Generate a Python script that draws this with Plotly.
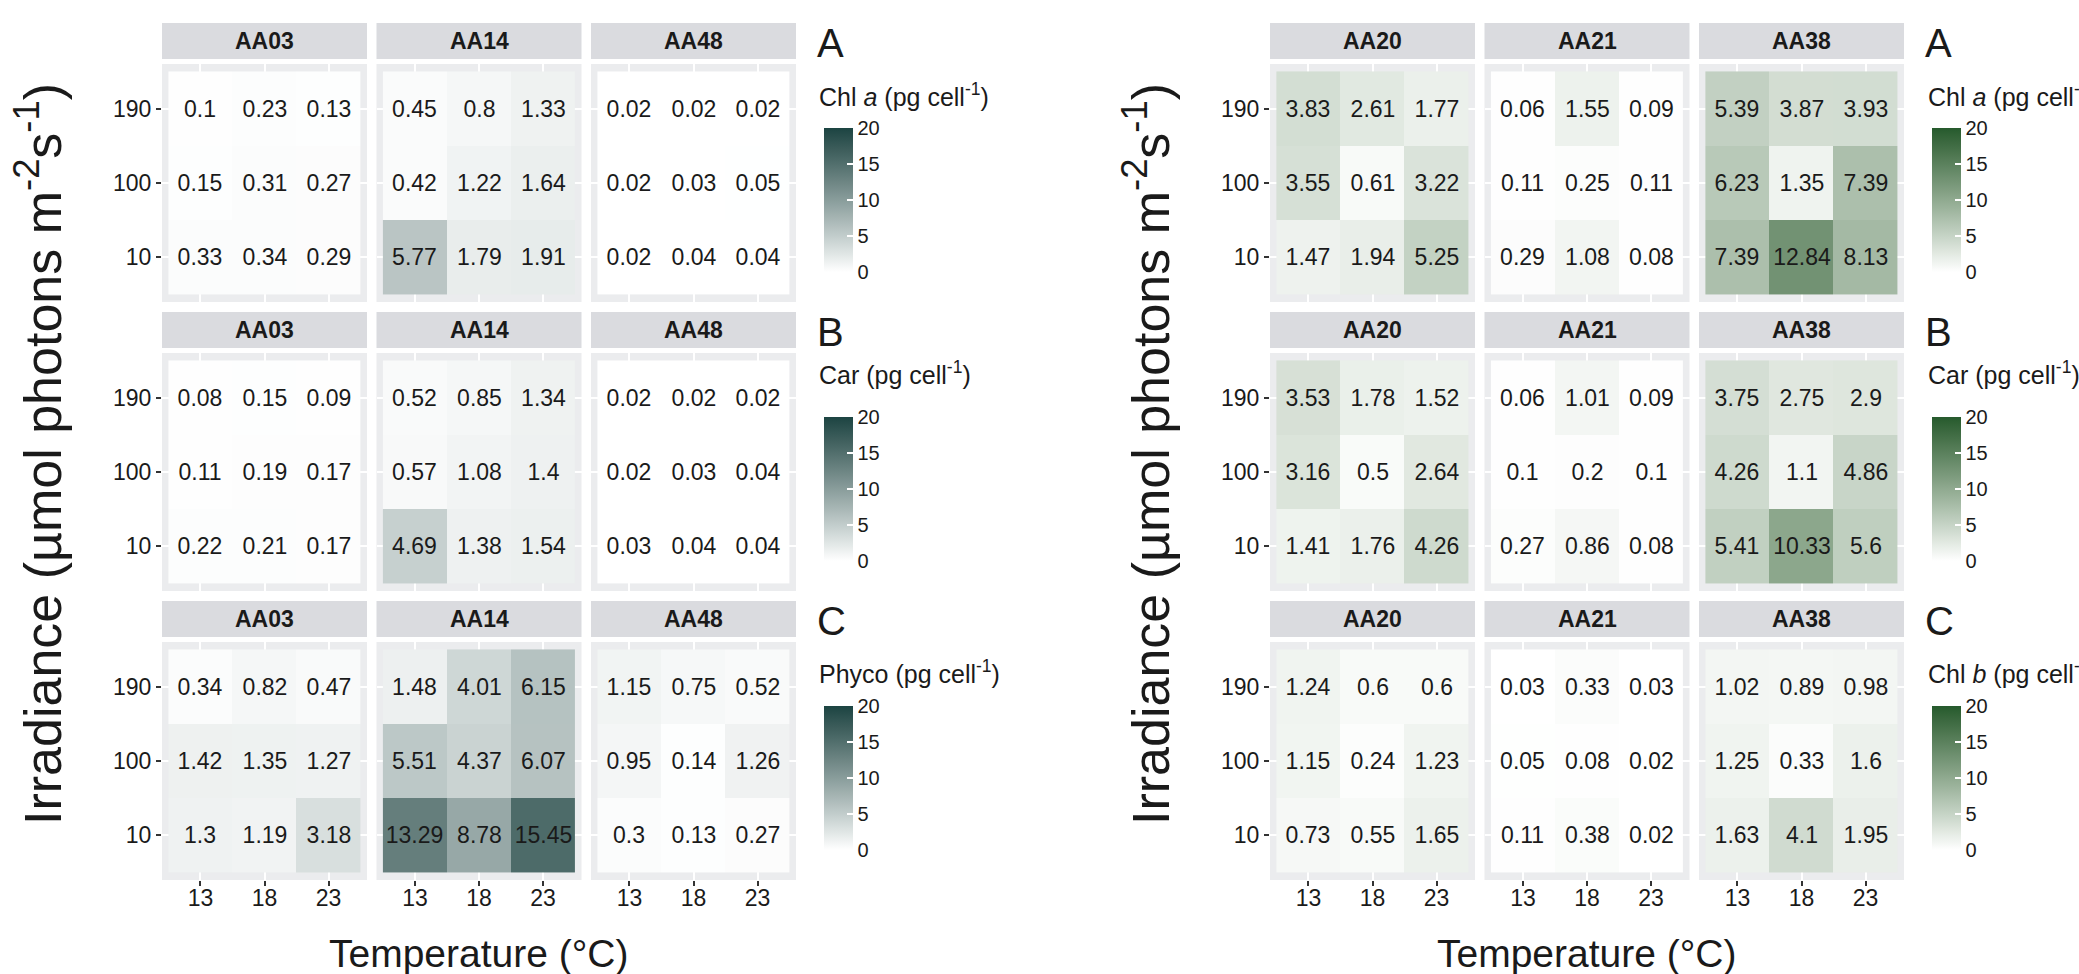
import plotly.graph_objects as go

W, H = 2079, 974

temperature = ["13", "18", "23"]
irradiance = ["10", "100", "190"]
strains_left = ["AA03", "AA14", "AA48"]
strains_right = ["AA20", "AA21", "AA38"]

# rows: irradiance 10, 100, 190 ; columns: temperature 13, 18, 23
chl_a_left = {
    "AA03": [[0.33, 0.34, 0.29], [0.15, 0.31, 0.27], [0.1, 0.23, 0.13]],
    "AA14": [[5.77, 1.79, 1.91], [0.42, 1.22, 1.64], [0.45, 0.8, 1.33]],
    "AA48": [[0.02, 0.04, 0.04], [0.02, 0.03, 0.05], [0.02, 0.02, 0.02]],
}
car_left = {
    "AA03": [[0.22, 0.21, 0.17], [0.11, 0.19, 0.17], [0.08, 0.15, 0.09]],
    "AA14": [[4.69, 1.38, 1.54], [0.57, 1.08, 1.4], [0.52, 0.85, 1.34]],
    "AA48": [[0.03, 0.04, 0.04], [0.02, 0.03, 0.04], [0.02, 0.02, 0.02]],
}
phyco_left = {
    "AA03": [[1.3, 1.19, 3.18], [1.42, 1.35, 1.27], [0.34, 0.82, 0.47]],
    "AA14": [[13.29, 8.78, 15.45], [5.51, 4.37, 6.07], [1.48, 4.01, 6.15]],
    "AA48": [[0.3, 0.13, 0.27], [0.95, 0.14, 1.26], [1.15, 0.75, 0.52]],
}
chl_a_right = {
    "AA20": [[1.47, 1.94, 5.25], [3.55, 0.61, 3.22], [3.83, 2.61, 1.77]],
    "AA21": [[0.29, 1.08, 0.08], [0.11, 0.25, 0.11], [0.06, 1.55, 0.09]],
    "AA38": [[7.39, 12.84, 8.13], [6.23, 1.35, 7.39], [5.39, 3.87, 3.93]],
}
car_right = {
    "AA20": [[1.41, 1.76, 4.26], [3.16, 0.5, 2.64], [3.53, 1.78, 1.52]],
    "AA21": [[0.27, 0.86, 0.08], [0.1, 0.2, 0.1], [0.06, 1.01, 0.09]],
    "AA38": [[5.41, 10.33, 5.6], [4.26, 1.1, 4.86], [3.75, 2.75, 2.9]],
}
chl_b_right = {
    "AA20": [[0.73, 0.55, 1.65], [1.15, 0.24, 1.23], [1.24, 0.6, 0.6]],
    "AA21": [[0.11, 0.38, 0.02], [0.05, 0.08, 0.02], [0.03, 0.33, 0.03]],
    "AA38": [[1.63, 4.1, 1.95], [1.25, 0.33, 1.6], [1.02, 0.89, 0.98]],
}

panel_letters = ["A", "B", "C"]
titles_left = ["Chl <i>a</i> (pg cell<sup>-1</sup>)", "Car (pg cell<sup>-1</sup>)",
               "Phyco (pg cell<sup>-1</sup>)"]
titles_right = ["Chl <i>a</i> (pg cell<sup>-1</sup>)", "Car (pg cell<sup>-1</sup>)",
                "Chl <i>b</i> (pg cell<sup>-1</sup>)"]
color_ticks = [0, 5, 10, 15, 20]
TEAL = (28, 68, 66)
GREEN = (38, 90, 45)

# ---------- colour helpers (Lab interpolation like ggplot) ----------
def _lin(c):
    c = c / 255.0
    return c / 12.92 if c <= 0.04045 else ((c + 0.055) / 1.055) ** 2.4

def _delin(c):
    c = 12.92 * c if c <= 0.0031308 else 1.055 * c ** (1 / 2.4) - 0.055
    return max(0, min(255, round(c * 255)))

def rgb2lab(rgb):
    r, g, b = [_lin(v) for v in rgb]
    X = (0.4124 * r + 0.3576 * g + 0.1805 * b) / 0.95047
    Y = 0.2126 * r + 0.7152 * g + 0.0722 * b
    Z = (0.0193 * r + 0.1192 * g + 0.9505 * b) / 1.08883
    f = lambda t: t ** (1 / 3) if t > 0.008856 else 7.787 * t + 16 / 116
    fx, fy, fz = f(X), f(Y), f(Z)
    return (116 * fy - 16, 500 * (fx - fy), 200 * (fy - fz))

def lab2rgb(lab):
    L, a, b = lab
    fy = (L + 16) / 116
    fx = fy + a / 500
    fz = fy - b / 200
    finv = lambda t: t ** 3 if t ** 3 > 0.008856 else (t - 16 / 116) / 7.787
    X, Y, Z = finv(fx) * 0.95047, finv(fy), finv(fz) * 1.08883
    r = 3.2406 * X - 1.5372 * Y - 0.4986 * Z
    g = -0.9689 * X + 1.8758 * Y + 0.0415 * Z
    bb = 0.0557 * X - 0.2040 * Y + 1.0570 * Z
    return tuple(_delin(max(0, v)) for v in (r, g, bb))

def lab_scale(high, n=21):
    l0, l1 = rgb2lab((255, 255, 255)), rgb2lab(high)
    out = []
    for i in range(n):
        t = i / (n - 1)
        lab = tuple(l0[k] + (l1[k] - l0[k]) * t for k in range(3))
        r, g, b = lab2rgb(lab)
        out.append([t, f"rgb({r},{g},{b})"])
    return out

# ---------- geometry (pixels) ----------
col_x = {0: [162, 376.5, 591], 1: [1270, 1484.5, 1699]}
panel_w = 205
strip_top = [23, 312, 601]
strip_h = 36
panel_off = 41
panel_h = 238
bar_x = {0: 824, 1: 1932}
letter_x = {0: 815, 1: 1923}
title_x = {0: 817, 1: 1926}
bar_top_off = 105
bar_len = 144
letter_y_off = 20
title_y_off = [72, 61, 71]
ytitle_x = {0: 39, 1: 1147}
xtitle_cx = {0: 479, 1: 1587}

FONT = "Liberation Sans, Arial, Helvetica, sans-serif"
TXT = "#1a1a1a"
PANEL_BG = "#EBECEE"
STRIP_BG = "#DADBDF"

fig = go.Figure()
layout = dict(
    width=W, height=H,
    margin=dict(l=0, r=0, t=0, b=0, autoexpand=False),
    paper_bgcolor="white", plot_bgcolor=PANEL_BG,
    font=dict(family=FONT, color=TXT, size=20),
    showlegend=False,
    template="none",
)
shapes, annotations = [], []

halves = [
    (0, strains_left, [chl_a_left, car_left, phyco_left], titles_left, TEAL),
    (1, strains_right, [chl_a_right, car_right, chl_b_right], titles_right, GREEN),
]

k = 0
for half, strains, datasets, titles, high in halves:
    cscale = lab_scale(high)
    for r in range(3):
        ca_idx = half * 3 + r + 1
        ca_name = "coloraxis" if ca_idx == 1 else f"coloraxis{ca_idx}"
        st = strip_top[r]
        pt = st + panel_off
        layout[ca_name] = dict(
            colorscale=cscale, cmin=0, cmax=20,
            colorbar=dict(
                x=bar_x[half] / W, xanchor="left", xref="paper",
                y=1 - (st + bar_top_off) / H, yanchor="top", yref="paper",
                len=bar_len, lenmode="pixels", thickness=29, thicknessmode="pixels",
                xpad=0, ypad=0, outlinewidth=0,
                tickmode="array", tickvals=color_ticks,
                ticktext=[str(v) for v in color_ticks],
                ticks="inside", ticklen=6, tickcolor="white",
                tickwidth=1.5, tickfont=dict(size=20, color=TXT, family=FONT),
                title=dict(text=""),
            ),
        )
        for c in range(3):
            k += 1
            sx = "" if k == 1 else str(k)
            x0 = col_x[half][c]
            z = datasets[r][strains[c]]
            text = [[str(v) for v in row] for row in z]
            fig.add_trace(go.Heatmap(
                z=z, x=[0, 1, 2], y=[0, 1, 2], text=text, texttemplate="%{text}",
                textfont=dict(size=23, color=TXT, family=FONT),
                coloraxis=ca_name,
                xaxis="x" + sx, yaxis="y" + sx, hoverinfo="skip", xgap=0, ygap=0,
            ))
            layout["xaxis" + sx] = dict(
                domain=[x0 / W, (x0 + panel_w) / W], anchor="y" + sx,
                range=[-0.6, 2.6], tickvals=[0, 1, 2], ticktext=temperature,
                showticklabels=(r == 2), ticks="outside" if r == 2 else "",
                ticklen=5, tickwidth=1.5, tickcolor="#333333", ticklabelstandoff=-8,
                tickfont=dict(size=23, color=TXT, family=FONT),
                showgrid=True, gridcolor="white", gridwidth=2,
                zeroline=False, showline=False, automargin=False, fixedrange=True,
            )
            layout["yaxis" + sx] = dict(
                domain=[1 - (pt + panel_h) / H, 1 - pt / H], anchor="x" + sx,
                range=[-0.6, 2.6], tickvals=[0, 1, 2], ticktext=irradiance,
                showticklabels=(c == 0), ticks="outside" if c == 0 else "",
                ticklen=5, tickwidth=1.5, tickcolor="#333333",
                tickfont=dict(size=23, color=TXT, family=FONT),
                showgrid=True, gridcolor="white", gridwidth=2,
                zeroline=False, showline=False, automargin=False, fixedrange=True,
            )
            # strip
            shapes.append(dict(type="rect", xref="paper", yref="paper",
                               x0=x0 / W, x1=(x0 + panel_w) / W,
                               y0=1 - (st + strip_h) / H, y1=1 - st / H,
                               fillcolor=STRIP_BG, line=dict(width=0), layer="below"))
            annotations.append(dict(text="<b>" + strains[c] + "</b>", xref="paper", yref="paper",
                                    x=(x0 + panel_w / 2) / W, y=1 - (st + strip_h / 2) / H,
                                    xanchor="center", yanchor="middle", showarrow=False,
                                    font=dict(size=23, color=TXT, family=FONT)))
        # legend letter and title
        annotations.append(dict(text=panel_letters[r], xref="paper", yref="paper",
                                x=letter_x[half] / W, y=1 - (st + letter_y_off) / H,
                                xanchor="left", yanchor="middle", showarrow=False,
                                font=dict(size=40, color=TXT, family=FONT)))
        annotations.append(dict(text=titles[r], xref="paper", yref="paper",
                                x=title_x[half] / W, y=1 - (st + title_y_off[r]) / H,
                                xanchor="left", yanchor="middle", showarrow=False,
                                font=dict(size=25, color=TXT, family=FONT)))
    # axis titles
    annotations.append(dict(text="Irradiance (µmol photons m<sup>-2</sup>s<sup>-1</sup>)",
                            xref="paper", yref="paper", x=ytitle_x[half] / W, y=1 - 454 / H,
                            xanchor="center", yanchor="middle", textangle=-90, showarrow=False,
                            font=dict(size=52, color=TXT, family=FONT)))
    annotations.append(dict(text="Temperature (°C)", xref="paper", yref="paper",
                            x=xtitle_cx[half] / W, y=1 - 953 / H,
                            xanchor="center", yanchor="middle", showarrow=False,
                            font=dict(size=39, color=TXT, family=FONT)))

layout["shapes"] = shapes
layout["annotations"] = annotations
fig.update_layout(**layout)
fig.write_html("out.html")
